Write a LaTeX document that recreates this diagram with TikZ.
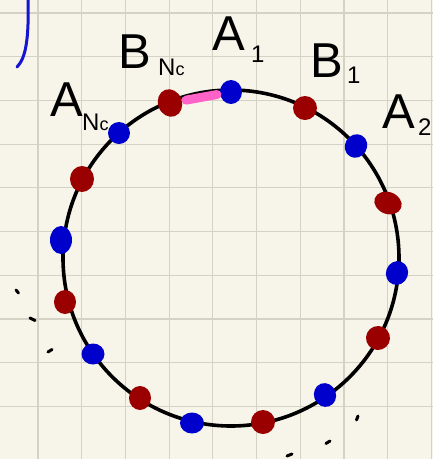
\documentclass[tikz,border=0pt]{standalone}
\usepackage{fontspec}
\setmainfont{Liberation Sans}
\usetikzlibrary{shapes.geometric}
\definecolor{paper}{HTML}{F7F5EA}
\definecolor{gridc}{HTML}{D3D2C4}
\definecolor{dotblue}{HTML}{0000CC}
\definecolor{dotred}{HTML}{9A0000}
\definecolor{segpink}{HTML}{FF63C8}
\definecolor{penblue}{HTML}{1414D2}
\tikzset{
  gridline/.style={gridc, line width=1.2pt},
  ring/.style={circle, draw=black, line width=3.6pt, inner sep=0pt, minimum size=336pt},
  bdot/.style={ellipse, fill=dotblue, inner sep=0pt, minimum width=22pt, minimum height=24pt},
  rdot/.style={ellipse, fill=dotred, inner sep=0pt, minimum width=24pt, minimum height=24pt},
  pinkseg/.style={segpink, line width=9pt, line cap=round, shorten <=4pt, shorten >=3pt},
  big/.style={font=\fontsize{49}{50}\selectfont, inner sep=0pt, anchor=base west},
  sub/.style={font=\fontsize{24}{25}\selectfont, inner sep=0pt, anchor=base west},
  tick/.style={black, line width=3pt, line cap=round}
}
\begin{document}
\begin{tikzpicture}[x=1pt, y=-1pt]
\fill[paper] (0,0) rectangle (433,459);
\useasboundingbox (0,0) rectangle (433,459);
% grid
\foreach \k in {0,...,9} {
  \draw[gridline] ({38+43.7*\k},0) -- ({38+43.7*\k},459);
  \draw[gridline] (0,{13+43.7*\k}) -- (433,{13+43.7*\k});
}
% pen stroke top-left
\draw[penblue, line width=3pt, line cap=round] (28,0) .. controls (29,38) and (26,58) .. (17,67);
% ring
\node[ring] (ring) at (231,258) {};
% dots
\node[bdot] (da1) at (231,92) {};
\node[rdot] (db1) at (305,108) {};
\node[bdot, rotate=-30] (da2) at (356,146) {};
\node[rdot, minimum width=28pt, minimum height=22pt, rotate=-20] (d4) at (388,203) {};
\node[bdot, rotate=-20] (d5) at (397,273) {};
\node[rdot, rotate=20] (d6) at (378,338) {};
\node[bdot, rotate=20] (d7) at (325,395) {};
\node[rdot] (d8) at (263,422) {};
\node[bdot, minimum width=24pt, minimum height=21pt] (d9) at (192,423) {};
\node[rdot, minimum width=22pt] (d10) at (140,398) {};
\node[bdot, minimum width=23pt, minimum height=21pt] (d11) at (93,354) {};
\node[rdot, minimum width=22pt] (d12) at (65,302) {};
\node[bdot, minimum width=22pt, minimum height=28pt] (d13) at (61,240) {};
\node[rdot, minimum width=24pt, minimum height=26pt] (d14) at (82,179) {};
\node[bdot, minimum height=22pt] (dan) at (119,133) {};
\node[rdot, minimum width=24pt, minimum height=28pt, rotate=20] (dbn) at (170,103) {};
% pink segment
\draw[pinkseg] (dbn) -- (da1);
% labels
\node[big] (la1) at (212,50) {A};
\node[sub] (la1s) at (251,62) {1};
\node[big] (lbn) at (118,68) {B};
\node[sub] (lbns) at (158,75) {N\raisebox{0pt}{\fontsize{18}{18}\selectfont c}};
\node[big] (lb1) at (310,77) {B};
\node[sub] (lb1s) at (347,83) {1};
\node[big] (la2) at (382,128) {A};
\node[sub] (la2s) at (418,135) {2};
\node[big] (lan) at (50,116) {A};
\node[sub] (lans) at (82,130) {N\raisebox{0pt}{\fontsize{18}{18}\selectfont c}};
% ellipsis marks
\draw[tick] (16,290) -- (18.5,293);
\draw[tick] (30,318) -- (35,320.5);
\draw[tick] (48,352) -- (52,349.5);
\draw[tick] (356.5,420) -- (358,416);
\draw[tick] (326,443.5) -- (330,441);
\draw[tick] (287,456) -- (292,454);
\end{tikzpicture}
\end{document}
